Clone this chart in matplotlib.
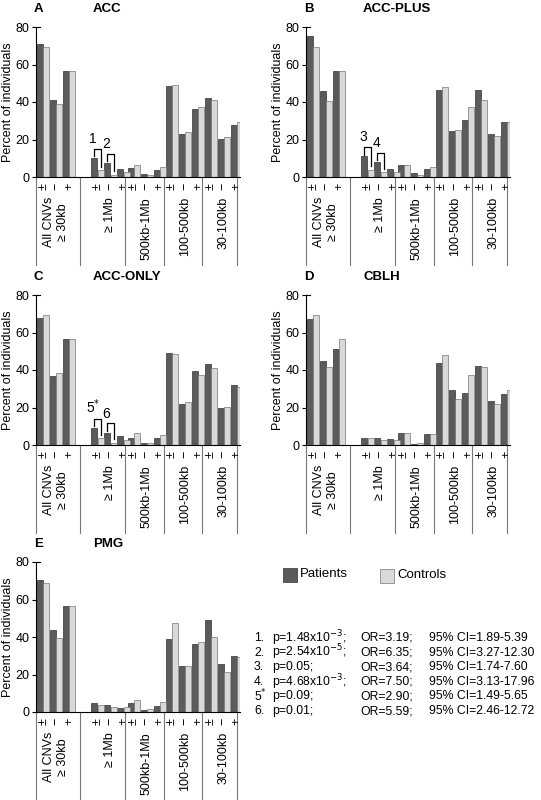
import matplotlib
matplotlib.use("Agg")
import matplotlib.pyplot as plt
from matplotlib.patches import Rectangle
from matplotlib.transforms import blended_transform_factory as btf

plt.rcParams['font.family'] = ['Liberation Sans', 'DejaVu Sans']

groups = ["All CNVs\n≥ 30kb", "≥ 1Mb", "500kb-1Mb", "100-500kb", "30-100kb"]
sub_labels = ["±", "−", "+"]
panels = ["A", "B", "C", "D", "E"]
titles = ["ACC", "ACC-PLUS", "ACC-ONLY", "CBLH", "PMG"]

# values per panel: 15 subgroups (5 groups x [±, −, +])
patients = {
 "A": [71, 41, 56.5, 10, 7.5, 4.5, 5, 1.5, 3.5, 48.5, 23, 36.5, 42, 20.5, 27.5],
 "B": [75, 46, 56.5, 11, 8, 4.5, 6.5, 2, 4.5, 46.5, 24.5, 30.5, 46.5, 23, 29.5],
 "C": [68, 37, 56.5, 9, 6.5, 5, 4, 1, 3.5, 49, 22, 39.5, 43, 20, 32],
 "D": [67, 45, 51, 3.5, 3.5, 3, 6.5, 0.5, 6, 43.5, 29.5, 28, 42, 23.5, 27],
 "E": [70.5, 43.5, 56.5, 5, 3.5, 2, 5, 1, 3, 39, 24.5, 36.5, 49, 25.5, 30],
}
controls = {
 "A": [69.5, 39, 56.5, 3.5, 1.2, 2.5, 6.5, 1, 5.5, 49, 24, 37.5, 41, 21.5, 29.5],
 "B": [69.5, 40.5, 56.5, 4, 2.5, 2.5, 6.5, 1, 5.5, 48, 25, 37.5, 41, 22, 29.5],
 "C": [69.5, 38.5, 56.5, 3.5, 1.2, 2.5, 6.5, 1, 5.5, 48.5, 23, 37.5, 41, 20.5, 31],
 "D": [69.5, 41.5, 56.5, 3.5, 2.5, 2.5, 6.5, 1, 6, 48, 24.5, 37.5, 41.5, 22, 29.5],
 "E": [69, 39.5, 56.5, 4, 2.5, 2.5, 6.5, 1.5, 5.5, 47.5, 24.5, 37.5, 40, 21.5, 29.5],
}
# bracket annotations: (panel, subgroup index, label)
brackets = [("A", 3, "1"), ("A", 4, "2"), ("B", 3, "3"), ("B", 4, "4"),
            ("C", 3, "5$^{*}$"), ("C", 4, "6")]
stats_num = ["1.", "2.", "3.", "4.", "5$^{*}$", "6."]
stats_p = ["p=1.48x10$^{-3}$;", "p=2.54x10$^{-5}$;", "p=0.05;", "p=4.68x10$^{-3}$;", "p=0.09;", "p=0.01;"]
stats_or = ["OR=3.19;", "OR=6.35;", "OR=3.64;", "OR=7.50;", "OR=2.90;", "OR=5.59;"]
stats_ci = ["95% CI=1.89-5.39", "95% CI=3.27-12.30", "95% CI=1.74-7.60",
            "95% CI=3.13-17.96", "95% CI=1.49-5.65", "95% CI=2.46-12.72"]

W, H = 541, 800
fig = plt.figure(figsize=(W/100, H/100), dpi=100)
PCOL, CCOL = "#5b5b5b", "#d9d9d9"

group_starts = [0, 4.2, 7.0, 9.95, 12.95]
xpos = [g + k for g in group_starts for k in range(3)]
seps = [2.83, 6.3, 9.3, 12.25, 15.0]
XL = (-0.55, 15.2)

layout = {"A": (36, 177, 27), "B": (306, 177, 27), "C": (36, 445, 295),
          "D": (306, 445, 295), "E": (36, 712, 562)}
AXW = 204

for pi, pn in enumerate(panels):
    lx, by, ty = layout[pn]
    ax = fig.add_axes([lx/W, 1-by/H, AXW/W, (by-ty)/H])
    hpx = by - ty
    p = patients[pn]; c = controls[pn]
    ax.bar([x-0.24 for x in xpos], p, width=0.46, color=PCOL, edgecolor="#333333", linewidth=0.5)
    ax.bar([x+0.24 for x in xpos], c, width=0.46, color=CCOL, edgecolor="#777777", linewidth=0.5)
    ax.set_xlim(*XL); ax.set_ylim(0, 80)
    ax.set_yticks([0, 20, 40, 60, 80])
    ax.tick_params(axis='y', labelsize=9, length=3, pad=1.5)
    ax.set_xticks([])
    for s in ["top", "right"]:
        ax.spines[s].set_visible(False)
    ax.spines["left"].set_bounds(0, 80)
    ax.plot([XL[0], XL[0]+0.3], [80, 80], color="black", lw=0.8, clip_on=False)
    ax.set_ylabel("Percent of individuals", fontsize=9, labelpad=1)
    tr = btf(ax.transData, ax.transAxes)
    down = 88 / hpx
    for sx in [XL[0]] + seps:
        ax.plot([sx, sx], [0, -down], color="#777777", lw=0.8, transform=tr, clip_on=False)
    for i, x in enumerate(xpos):
        ax.text(x, -6/hpx, sub_labels[i % 3], rotation=90, ha="center", va="top",
                fontsize=9, transform=tr)
    for gi, g in enumerate(groups):
        gx = group_starts[gi] + 1
        ax.text(gx, -20/hpx, g, rotation=90, ha="center", va="top", fontsize=9,
                transform=tr, multialignment="center")
    ax.text(-0.01, 1.1, pn, transform=ax.transAxes, fontsize=9.5, fontweight="bold")
    ax.text(0.28, 1.1, titles[pi], transform=ax.transAxes, fontsize=9.5, fontweight="bold")
    for (bp, si, lab) in brackets:
        if bp != pn:
            continue
        x0 = xpos[si] - 0.24; x1 = xpos[si] + 0.24
        top = p[si] + 5
        ax.plot([x0, x0, x1, x1], [p[si] + 1, top, top, c[si] + 2], color="black", lw=0.9)
        ax.text(x0 - 0.1, top + 1.5, lab, ha="center", va="bottom", fontsize=10)

# legend
fig.patches.append(Rectangle((283/W, 1-582/H), 14/W, 14/H, transform=fig.transFigure,
                             facecolor=PCOL, edgecolor="#333333", lw=0.5))
fig.text(300/W, 1-574/H, "Patients", fontsize=9.5, va="center")
fig.patches.append(Rectangle((380/W, 1-583/H), 14/W, 14/H, transform=fig.transFigure,
                             facecolor=CCOL, edgecolor="#777777", lw=0.5))
fig.text(397/W, 1-575/H, "Controls", fontsize=9.5, va="center")

for i in range(6):
    y = 1 - (638 + i*14.6)/H
    fig.text(254/W, y, stats_num[i], fontsize=8.8, va="center")
    fig.text(272/W, y, stats_p[i], fontsize=8.8, va="center")
    fig.text(360/W, y, stats_or[i], fontsize=8.8, va="center")
    fig.text(429/W, y, stats_ci[i], fontsize=8.8, va="center")

fig.savefig("out.png", dpi=100)
